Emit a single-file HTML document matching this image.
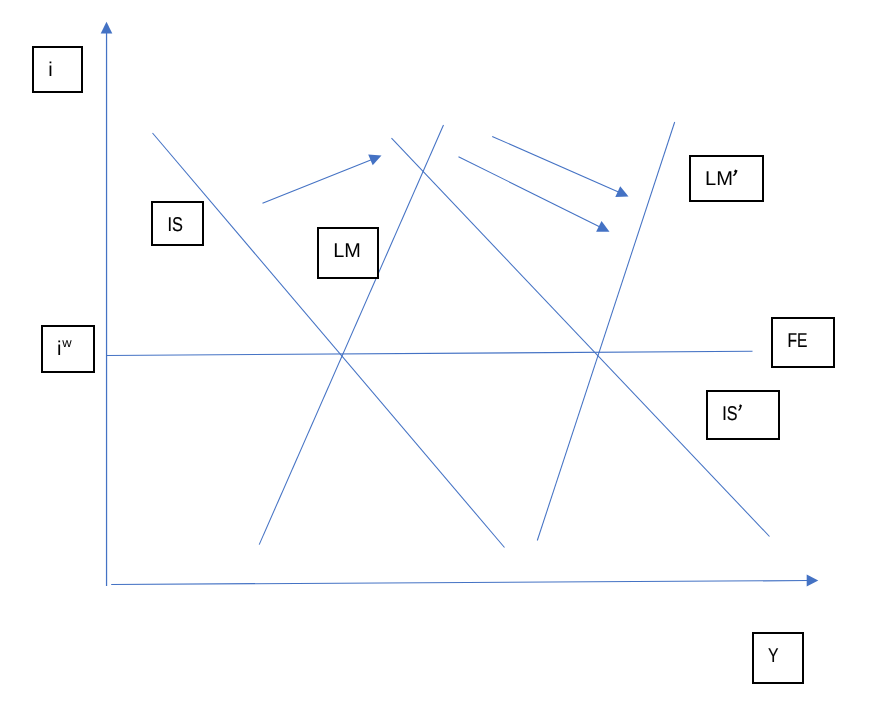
<!DOCTYPE html>
<html lang="en">
<head>
<meta charset="utf-8">
<title>IS-LM-FE diagram</title>
<style>
  html, body { margin: 0; padding: 0; background: #ffffff; }
  body { width: 880px; height: 704px; overflow: hidden; position: relative; }
  svg { position: absolute; left: 0; top: 0; display: block; will-change: transform; }
  .ln { stroke: #4472C4; stroke-width: 1.05; fill: none; stroke-linecap: butt; }
  .ax { stroke: #4472C4; stroke-width: 1.25; fill: none; stroke-linecap: butt; }
  .hd { fill: #4472C4; stroke: none; }
  .bx { fill: #ffffff; stroke: #000000; stroke-width: 2; shape-rendering: crispEdges; }
  text { font-family: "Liberation Sans", sans-serif; font-size: 20px; fill: #000000; text-rendering: geometricPrecision; }
  .sup { font-size: 13px; }
  .ap { font-size: 29px; stroke: none; }
  .cd { stroke: #000000; stroke-width: 0.2; stroke-linejoin: round; }
</style>
</head>
<body>
<svg width="880" height="704" viewBox="0 0 880 704">
  <rect x="0" y="0" width="880" height="704" fill="#ffffff"/>

  <!-- axes -->
  <line class="ax" x1="106.55" y1="586" x2="106.55" y2="32"/>
  <polygon class="hd" points="106.5,21.8 112.3,33.4 100.7,33.4"/>
  <line class="ln" x1="111.2" y1="584.45" x2="808" y2="580.6"/>
  <polygon class="hd" points="818.3,580.5 806.7,586.4 806.7,574.6"/>

  <!-- FE -->
  <line class="ln" x1="106.5" y1="355.5" x2="752.5" y2="351.3"/>

  <!-- IS, IS' -->
  <line class="ln" x1="152.5" y1="133" x2="504.5" y2="547.5"/>
  <line class="ln" x1="391.5" y1="138.2" x2="769.5" y2="536.5"/>

  <!-- LM, LM' -->
  <line class="ln" x1="443.5" y1="125" x2="259.2" y2="544.6"/>
  <line class="ln" x1="674.7" y1="122" x2="537.3" y2="540.5"/>

  <!-- shift arrows -->
  <g id="a1">
    <line class="ln" x1="262.5" y1="203.2" x2="372" y2="159.4"/>
    <polygon class="hd" points="381.5,155.4 372.7,165.2 368.2,154.4"/>
  </g>
  <g id="a2">
    <line class="ln" x1="492.2" y1="136.4" x2="619" y2="192.3"/>
    <polygon class="hd" points="628.5,196.4 615.3,197 620.2,186.2"/>
  </g>
  <g id="a3">
    <line class="ln" x1="458.5" y1="156.7" x2="600" y2="227"/>
    <polygon class="hd" points="609.5,231.7 596.1,231.7 601.5,221"/>
  </g>

  <!-- label boxes -->
  <g id="labels">
  <rect class="bx" x="33" y="47" width="49" height="45"/>
  <text id="t_i" transform="translate(48.3 76.05) scale(1 0.995)">i</text>

  <rect class="bx" x="42" y="326" width="52" height="46"/>
  <text id="t_iw" transform="translate(57.1 355.1) scale(1 0.995)">i<tspan class="sup" dx="0.8" dy="-8.2">w</tspan></text>

  <rect class="bx" x="152" y="202" width="51" height="43"/>
  <text id="t_is" class="cd" transform="translate(167.5 231) scale(0.815 1)">IS</text>

  <rect class="bx" x="318" y="228" width="60" height="50"/>
  <text id="t_lm" transform="translate(333.2 257) scale(0.995 1)">LM</text>

  <rect class="bx" x="690" y="156" width="73" height="45"/>
  <text id="t_lm2" transform="translate(705.0 185) scale(1.005 1)">LM<tspan class="ap" rotate="22" dx="-7.1" dy="2.3">’</tspan></text>

  <rect class="bx" x="772" y="318" width="62" height="49"/>
  <text id="t_fe" class="cd" transform="translate(787.45 347) scale(0.78 1)">FE</text>

  <rect class="bx" x="707" y="391" width="72" height="48"/>
  <text id="t_is2" class="cd" transform="translate(722.3 420) scale(0.806 1)">IS<tspan class="ap" rotate="22" dx="-6.1" dy="2.1">’</tspan></text>

  <rect class="bx" x="753" y="633" width="50" height="50"/>
  <text id="t_y" class="cd" transform="translate(768.05 661.8) scale(0.787 1)">Y</text>
  </g>
</svg>
</body>
</html>
